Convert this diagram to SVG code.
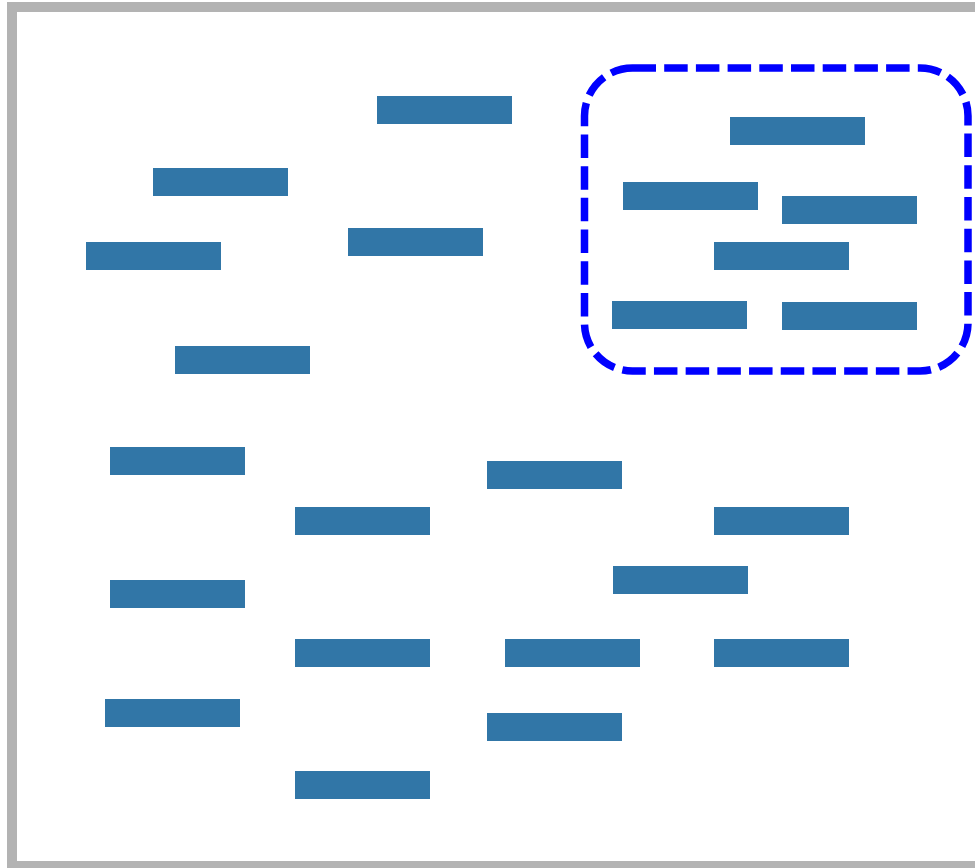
<svg xmlns="http://www.w3.org/2000/svg" width="975" height="868" viewBox="0 0 975 868">
<style>
.n{fill:#3176a7}
.frame{fill:#fff;stroke:#b3b3b3;stroke-width:10}
.grp{fill:none;stroke:#0000ff;stroke-width:7.5;stroke-dasharray:23.5 8.2}
</style>
<rect class="frame" x="12" y="7" width="990" height="859"/>
<g id="nodes">
<rect id="n1" class="n" x="377" y="96" width="135" height="28"/>
<rect id="n2" class="n" x="153" y="168" width="135" height="28"/>
<rect id="n3" class="n" x="86" y="242" width="135" height="28"/>
<rect id="n4" class="n" x="348" y="228" width="135" height="28"/>
<rect id="n5" class="n" x="175" y="346" width="135" height="28"/>
<rect id="n6" class="n" x="110" y="447" width="135" height="28"/>
<rect id="n7" class="n" x="487" y="461" width="135" height="28"/>
<rect id="n8" class="n" x="295" y="507" width="135" height="28"/>
<rect id="n9" class="n" x="714" y="507" width="135" height="28"/>
<rect id="n10" class="n" x="110" y="580" width="135" height="28"/>
<rect id="n11" class="n" x="613" y="566" width="135" height="28"/>
<rect id="n12" class="n" x="295" y="639" width="135" height="28"/>
<rect id="n13" class="n" x="505" y="639" width="135" height="28"/>
<rect id="n14" class="n" x="714" y="639" width="135" height="28"/>
<rect id="n15" class="n" x="105" y="699" width="135" height="28"/>
<rect id="n16" class="n" x="487" y="713" width="135" height="28"/>
<rect id="n17" class="n" x="295" y="771" width="135" height="28"/>
<rect id="n18" class="n" x="730" y="117" width="135" height="28"/>
<rect id="n19" class="n" x="623" y="182" width="135" height="28"/>
<rect id="n20" class="n" x="782" y="196" width="135" height="28"/>
<rect id="n21" class="n" x="714" y="242" width="135" height="28"/>
<rect id="n22" class="n" x="612" y="301" width="135" height="28"/>
<rect id="n23" class="n" x="782" y="302" width="135" height="28"/>
</g>
<g id="group">
<rect class="grp" x="584.5" y="68" width="383.5" height="303" rx="48" ry="48"/>
</g>
<g id="connectors"></g>
</svg>
